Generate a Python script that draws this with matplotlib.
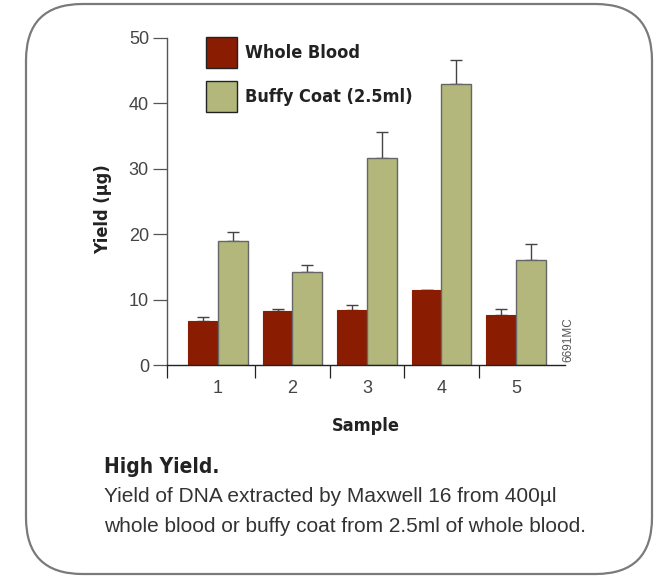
import numpy as np
import matplotlib.pyplot as plt
from matplotlib.patches import FancyBboxPatch
from matplotlib.ticker import FixedLocator

samples = ['1', '2', '3', '4', '5']
whole_blood = [6.8, 8.2, 8.4, 11.4, 7.6]
whole_blood_err = [0.6, 0.35, 0.7, 0.0, 0.95]
buffy_coat = [18.9, 14.2, 31.6, 43.0, 16.1]
buffy_coat_err = [1.4, 1.1, 4.0, 3.7, 2.4]
series = ['Whole Blood', 'Buffy Coat (2.5ml)']

red = '#8a1c02'
green = '#b3b77b'
txt = '#333333'
bold = {'family': 'DejaVu Sans', 'stretch': 'condensed', 'weight': 'bold'}
light = 'Liberation Sans'

fig = plt.figure(figsize=(6.64, 5.79), dpi=100)

# rounded frame round the whole panel
frame = FancyBboxPatch((26 / 664, 5 / 579), 626 / 664, 570 / 579,
                       boxstyle='round,pad=0,rounding_size=0.085',
                       transform=fig.transFigure, fill=False,
                       edgecolor='#7a7a7a', linewidth=1.6,
                       mutation_aspect=664 / 579)
fig.patches.append(frame)

ax = fig.add_axes([167 / 664, 1 - 365 / 579, 398 / 664, 327 / 579])
x = np.arange(1, len(samples) + 1)
w = 0.4

ax.bar(x - w / 2, whole_blood, w, color=red, edgecolor=red, linewidth=0.8,
       zorder=2)
ax.bar(x + w / 2, buffy_coat, w, color=green, edgecolor='#666666',
       linewidth=1.0, zorder=2)
ax.errorbar(x - w / 2, whole_blood,
            yerr=[np.zeros(len(x)), whole_blood_err], fmt='none',
            ecolor='#444444', elinewidth=1.0, capsize=4.5, capthick=1.0,
            zorder=1)
ax.errorbar(x + w / 2, buffy_coat,
            yerr=[np.zeros(len(x)), buffy_coat_err], fmt='none',
            ecolor='#444444', elinewidth=1.0, capsize=4.5, capthick=1.0,
            zorder=1)

ax.set_xlim(0.315, 5.66)
ax.set_ylim(0, 50)
for s in ['top', 'right']:
    ax.spines[s].set_visible(False)
ax.spines['left'].set_color('#555555')
ax.spines['bottom'].set_color('#222222')
ax.spines['left'].set_linewidth(1.0)
ax.spines['bottom'].set_linewidth(1.0)

ax.set_yticks([0, 10, 20, 30, 40, 50])
ax.tick_params(axis='y', length=10, width=0.9, color='#555555', pad=3,
               labelsize=13, labelcolor='#444444')
ax.set_xticks(x)
ax.set_xticklabels(samples)
ax.tick_params(axis='x', which='major', length=0, pad=11, labelsize=13,
               labelcolor='#444444')
ax.xaxis.set_minor_locator(FixedLocator([0.315, 1.5, 2.5, 3.5, 4.5]))
ax.tick_params(axis='x', which='minor', length=9, width=0.9, color='#222222',
               direction='out')
for lab in ax.get_xticklabels() + ax.get_yticklabels():
    lab.set_fontfamily(light)

ax.set_ylabel('Yield (µg)', fontdict=bold, fontsize=13, color='#222222')
ax.yaxis.set_label_coords(-0.138, 0.477)
ax.set_xlabel('Sample', fontdict=bold, fontsize=13, color='#222222',
              labelpad=14)

handles = [plt.Rectangle((0, 0), 1, 1, facecolor=red, edgecolor='#222222'),
           plt.Rectangle((0, 0), 1, 1, facecolor=green, edgecolor='#222222')]
leg = ax.legend(handles=handles, labels=series, loc='upper left',
                bbox_to_anchor=(0.098, 1.003), frameon=False,
                borderpad=0, borderaxespad=0,
                handlelength=1.7, handleheight=2.3, labelspacing=0.7,
                handletextpad=0.45,
                prop={**bold, 'size': 13})
for t in leg.get_texts():
    t.set_color('#222222')

fig.text(568 / 664, 1 - 340 / 579, '6691MC', rotation=90, fontsize=8.5,
         color='#555555', ha='center', va='center', fontfamily=light)

fig.text(104 / 664, 1 - 467 / 579, 'High Yield.', fontdict=bold,
         fontsize=15, color='#222222', va='center')
fig.text(104 / 664, 1 - 497 / 579,
         'Yield of DNA extracted by Maxwell 16 from 400µl',
         fontfamily=light, fontsize=15, color=txt, va='center')
fig.text(104 / 664, 1 - 526 / 579,
         'whole blood or buffy coat from 2.5ml of whole blood.',
         fontfamily=light, fontsize=15, color=txt, va='center')

fig.savefig('out.png', dpi=100)
